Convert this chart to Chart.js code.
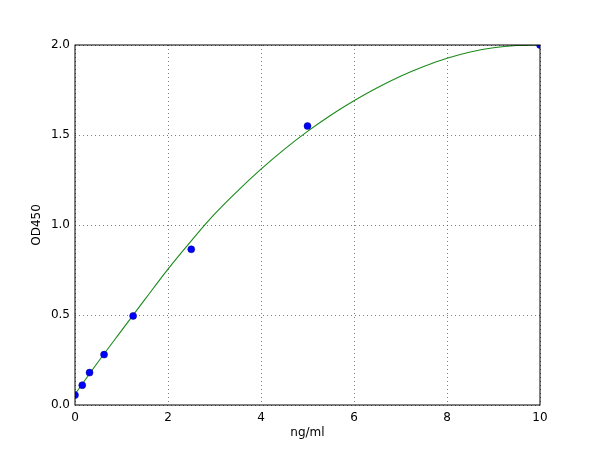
<!DOCTYPE html>
<html>
<head>
<meta charset="utf-8">
<script src="https://cdn.jsdelivr.net/npm/chart.js@4/dist/chart.umd.min.js"></script>
<style>
  html, body { margin: 0; padding: 0; background: #fff; }
  #wrap { width: 600px; height: 450px; }
</style>
</head>
<body>
<div id="wrap"><canvas id="curveChart" width="600" height="450"></canvas></div>
<script>
// standards (measured points)
const concs = [0, 0.156, 0.3125, 0.625, 1.25, 2.5, 5, 10];
const odValues = [0.055, 0.11, 0.18, 0.28, 0.495, 0.865, 1.55, 2.0];

// fitted curve
const fitX = [0, 0.5, 1, 1.5, 2, 2.5, 3, 3.5, 4, 4.5, 5, 5.5, 6, 6.5, 7, 7.5, 8, 8.5, 9, 9.5, 10];
const fitY = [0.06, 0.24, 0.413, 0.585, 0.755, 0.912, 1.06, 1.19, 1.31, 1.42, 1.52, 1.61, 1.69, 1.762, 1.826, 1.88, 1.926, 1.961, 1.985, 1.997, 2.0];

const xTicks = [0, 2, 4, 6, 8, 10];
const yTicks = [0, 0.5, 1.0, 1.5, 2.0];

// box round the plot area
const frameBox = {
  id: 'frameBox',
  afterDraw(chart) {
    const a = chart.chartArea;
    const c = chart.ctx;
    c.save();
    c.strokeStyle = '#000';
    c.lineWidth = 1;
    c.strokeRect(a.left, a.top, a.right - a.left, a.bottom - a.top);
    c.restore();
  }
};

function drawChart() {
  const ctx = document.getElementById('curveChart');
  const fitPoints = fitX.map((x, i) => ({ x: x, y: fitY[i] }));
  const stdPoints = concs.map((x, i) => ({ x: x, y: odValues[i] }));

  new Chart(ctx, {
    type: 'scatter',
    data: {
      datasets: [
        {
          data: fitPoints,
          showLine: true,
          borderColor: '#1a8a1a',
          borderWidth: 1.1,
          pointRadius: 0,
          tension: 0.4,
          order: 2
        },
        {
          data: stdPoints,
          backgroundColor: '#0000ff',
          borderColor: '#000080',
          borderWidth: 0.5,
          pointRadius: 3.5,
          order: 1
        }
      ]
    },
    options: {
      responsive: false,
      animation: false,
      layout: { padding: { left: 30, right: 60, top: 45, bottom: 10 } },
      plugins: { legend: { display: false }, tooltip: { enabled: false } },
      scales: {
        x: {
          type: 'linear',
          min: 0,
          max: 10,
          afterFit: (s) => { s.height = 35; },
          afterBuildTicks: (s) => { s.ticks = xTicks.map(v => ({ value: v })); },
          grid: { color: '#444', lineWidth: 0.7, drawTicks: false },
          border: { display: false, dash: [1, 3] },
          ticks: {
            color: '#000',
            padding: 6,
            font: { family: 'DejaVu Sans', size: 12 },
            callback: (v) => String(v)
          },
          title: {
            display: true,
            text: 'ng/ml',
            color: '#000',
            font: { family: 'DejaVu Sans', size: 12 },
            padding: 0
          }
        },
        y: {
          type: 'linear',
          min: 0,
          max: 2,
          afterFit: (s) => { s.width = 45; },
          afterBuildTicks: (s) => { s.ticks = yTicks.map(v => ({ value: v })); },
          grid: { color: '#444', lineWidth: 0.7, drawTicks: false },
          border: { display: false, dash: [1, 3] },
          ticks: {
            color: '#000',
            padding: 5,
            font: { family: 'DejaVu Sans', size: 12 },
            callback: (v) => v.toFixed(1)
          },
          title: {
            display: true,
            text: 'OD450',
            color: '#000',
            font: { family: 'DejaVu Sans', size: 12 },
            padding: 0
          }
        }
      }
    },
    plugins: [frameBox]
  });
}

drawChart();
</script>
</body>
</html>
